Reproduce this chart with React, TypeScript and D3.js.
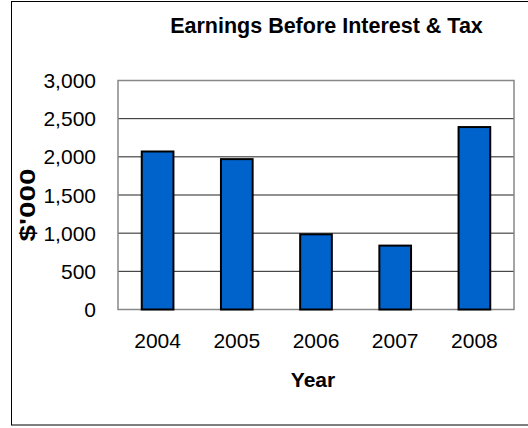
import React from "react";
import * as d3 from "d3";

const years = ["2004", "2005", "2006", "2007", "2008"];
const ebit = [2070, 1970, 985, 837, 2390];
const yTicks = [0, 500, 1000, 1500, 2000, 2500, 3000];
const title = "Earnings Before Interest & Tax";
const xTitle = "Year";
const yTitle = "$'000";

export default function App() {
  const W = 528, H = 428;
  const left = 118, right = 514, top = 80.5, bottom = 309.5;
  const x = d3.scaleBand<string>().domain(years).range([left, right]).paddingInner(0.6).paddingOuter(0.3);
  const y = d3.scaleLinear().domain([0, 3000]).range([bottom, top]);
  const fmt = d3.format(",");
  const font = "Arial, 'Liberation Sans', sans-serif";
  return (
    <svg width={W} height={H} style={{ position: "absolute", left: 0, top: 0, fontFamily: font }}>
      <rect x={0} y={0} width={W} height={H} fill="#fff" />
      <rect x={11.5} y={1.5} width={530} height={423.5} fill="none" stroke="#000" strokeWidth={1} />
      <text x={326.5} y={33} textAnchor="middle" fontSize={21.5} fontWeight="bold" fill="#000">{title}</text>
      {yTicks.filter((t) => t > 0).map((t) => (
        <line key={t} x1={left} x2={right} y1={y(t)} y2={y(t)} stroke="#222" strokeWidth={1} />
      ))}
      <rect x={left} y={top} width={right - left} height={bottom - top} fill="none" stroke="#888" strokeWidth={1.5} />
      {years.map((yr, i) => (
        <rect key={yr} x={x(yr)!} y={y(ebit[i])} width={x.bandwidth()} height={bottom - y(ebit[i])}
          fill="#0063CC" stroke="#000" strokeWidth={2} />
      ))}
      {yTicks.map((t) => (
        <text key={t} x={96} y={y(t)} dy="0.36em" textAnchor="end" fontSize={21} fill="#000">{fmt(t)}</text>
      ))}
      {years.map((yr) => (
        <text key={yr} x={x(yr)! + x.bandwidth() / 2} y={348} textAnchor="middle" fontSize={21} fill="#000">{yr}</text>
      ))}
      <text x={313} y={387} textAnchor="middle" fontSize={21} fontWeight="bold" fill="#000">{xTitle}</text>
      <text transform="translate(35,205) rotate(-90)" textAnchor="middle" fontSize={22} fontWeight="bold" fill="#000"
        textLength={73} lengthAdjust="spacingAndGlyphs">{yTitle}</text>
    </svg>
  );
}
